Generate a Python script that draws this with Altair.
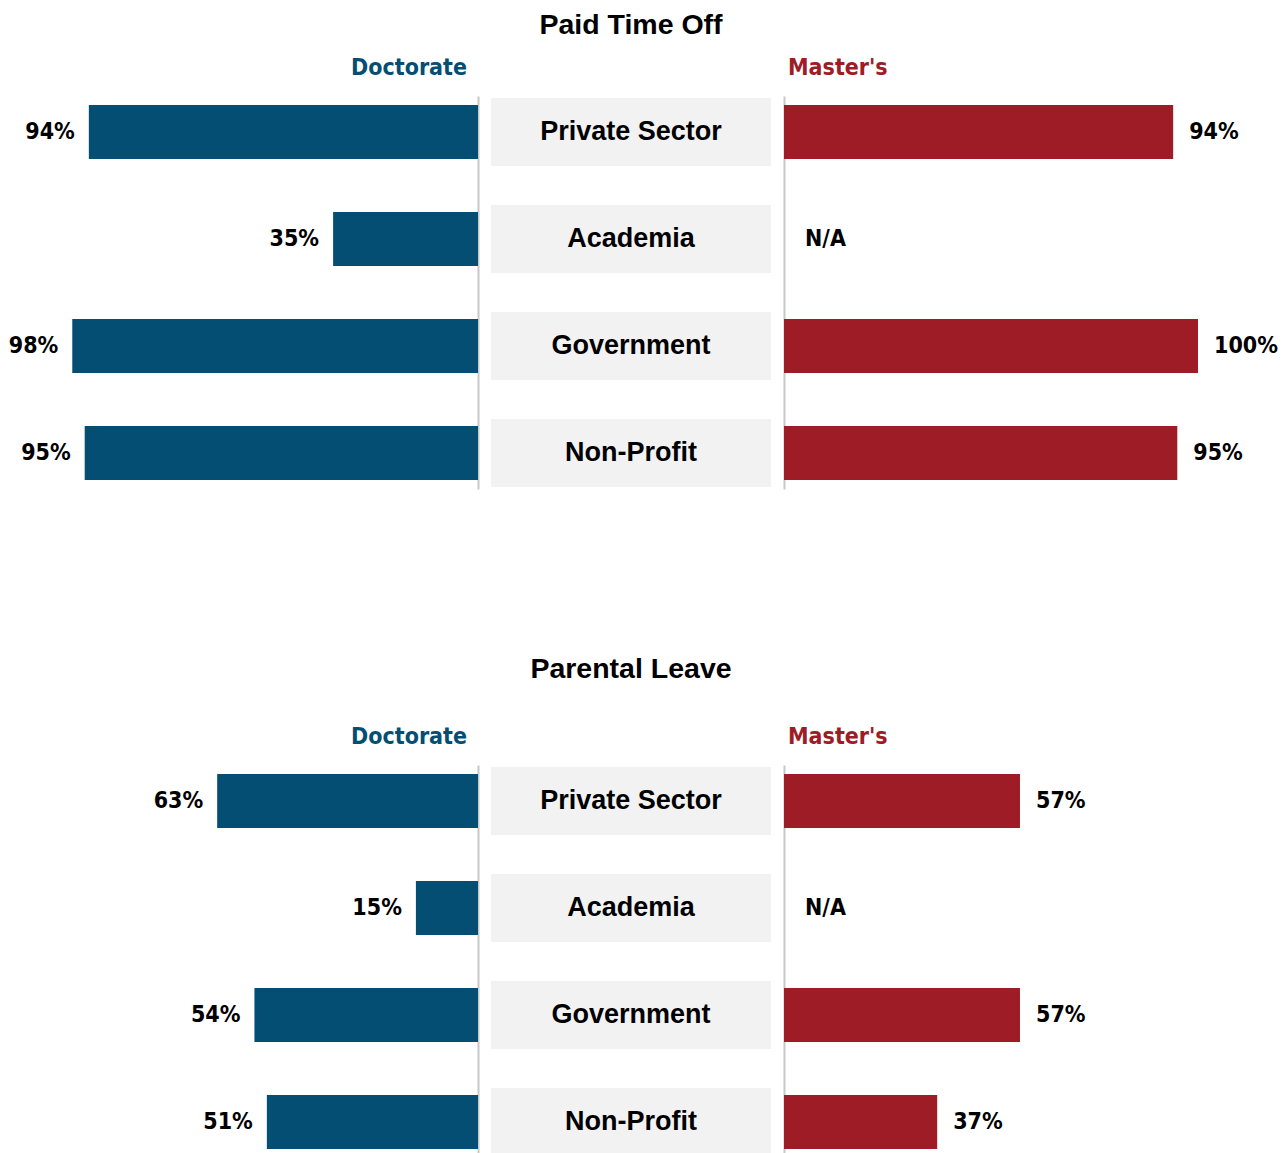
import altair as alt

categories = ["Private Sector", "Academia", "Government", "Non-Profit"]
pto_doctorate = [94, 35, 98, 95]
pto_masters = [94, None, 100, 95]
pl_doctorate = [63, 15, 54, 51]
pl_masters = [57, None, 57, 37]

BLUE = "#034E72"
RED = "#9E1C25"
BOX = "#F2F2F2"
LINE = "#C8C8C8"
NARROW = "'Liberation Sans Narrow', 'Arial Narrow', 'DejaVu Sans Condensed', sans-serif"
SANS = "'Liberation Sans', Arial, sans-serif"

H = 393
PAD = 0.336
BAR = 54
BOXH = 68
PX_PER = 4.14
NUM_SIZE = 23


def rows(values):
    return [{"cat": c, "value": v} for c, v in zip(categories, values)]


def yenc(axis):
    return alt.Y("cat:N", sort=categories,
                 scale=alt.Scale(type="point", padding=PAD), axis=axis)


def side(values, color, header, left, header_offset):
    width = 470 if left else 494
    dmax = width / PX_PER
    axis = alt.Axis(orient="right" if left else "left", labels=False, ticks=False,
                    title=None, domainColor=LINE, domainWidth=2, grid=False)
    y = yenc(axis)
    xscale = alt.Scale(domain=[0, dmax], reverse=left, nice=False, zero=True)
    base = alt.Chart(alt.Data(values=rows(values)))
    bars = base.mark_bar(size=BAR, color=color).encode(
        x=alt.X("value:Q", scale=xscale, axis=None), y=y)
    labels = base.transform_filter("isValid(datum.value)").transform_calculate(
        label="datum.value + '%'"
    ).mark_text(
        align="right" if left else "left", dx=-14 if left else 16,
        baseline="middle", font=NARROW, fontSize=NUM_SIZE, fontWeight="bold", color="#000"
    ).encode(x=alt.X("value:Q", scale=xscale, axis=None), y=y, text="label:N")
    na = base.transform_filter("!isValid(datum.value)").transform_calculate(
        pos="0", label="'N/A'"
    ).mark_text(
        align="right" if left else "left", dx=-21 if left else 21,
        baseline="middle", font=NARROW, fontSize=NUM_SIZE, fontWeight="bold", color="#000"
    ).encode(x=alt.X("pos:Q", scale=xscale, axis=None), y=y, text="label:N")
    title = alt.TitleParams(
        header, anchor="end" if left else "start", color=color, font=NARROW,
        fontSize=NUM_SIZE, fontWeight="bold",
        offset=header_offset, dx=-11 if left else 4)
    return alt.layer(bars, labels, na).properties(width=width, height=H, title=title)


def middle(title, title_offset):
    data = alt.Data(values=[{"cat": c} for c in categories])
    y = yenc(None)
    boxes = alt.Chart(data).mark_bar(size=BOXH, color=BOX).encode(
        x=alt.X(datum=0, scale=alt.Scale(domain=[0, 1], nice=False), axis=None),
        x2=alt.X2(datum=1),
        y=y)
    text = alt.Chart(data).mark_text(
        font=SANS, fontSize=27, fontWeight="bold", color="#000", baseline="middle"
    ).encode(y=y, text="cat:N")
    t = alt.TitleParams(title, anchor="middle", font=SANS, fontSize=28.5,
                        fontWeight="bold", color="#000", offset=title_offset)
    return alt.layer(boxes, text).properties(width=280, height=H, title=t)


def section(title, doc, mas, title_offset, header_offset):
    return alt.hconcat(
        side(doc, BLUE, "Doctorate", True, header_offset),
        middle(title, title_offset),
        side(mas, RED, "Master's", False, header_offset),
        spacing=13, bounds="flush",
    )


chart = alt.vconcat(
    section("Paid Time Off", pto_doctorate, pto_masters, 57, 16),
    section("Parental Leave", pl_doctorate, pl_masters, 82, 16),
    spacing=165,
).properties(padding={"left": 0, "right": 0, "top": 2, "bottom": 0}
).configure_view(strokeWidth=0)

chart.save("out.html", embed_options={"renderer": "svg", "actions": False})
